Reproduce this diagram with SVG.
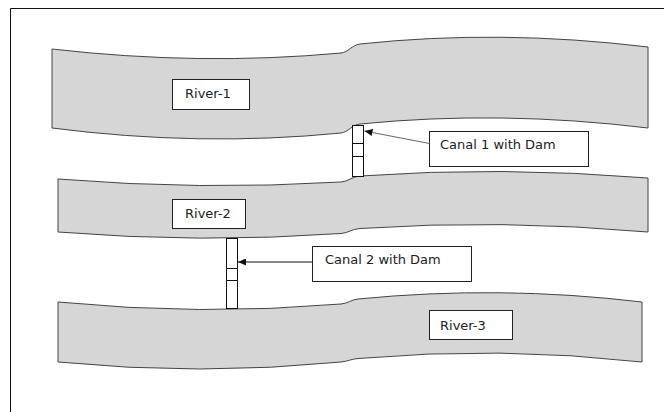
<svg xmlns="http://www.w3.org/2000/svg" width="664" height="412" viewBox="0 0 664 412">
<style>
.river{fill:#d6d6d6;stroke:#444;stroke-width:1}
.box{fill:#fff;stroke:#222;stroke-width:1}
.canal{fill:#fff;stroke:#111;stroke-width:1}
.t{font-family:"DejaVu Sans",sans-serif;font-size:13px;fill:#222}
.frame{fill:none;stroke:#111;stroke-width:1}
</style>
<defs>
<marker id="ah" markerUnits="userSpaceOnUse" markerWidth="9" markerHeight="7" refX="8" refY="3.5" orient="auto">
<path d="M0,0 L8,3.5 L0,7 Z" fill="#111"/>
</marker>
</defs>
<rect width="664" height="412" fill="#fff"/>
<path class="frame" d="M10.5,412 V8.5 H664"/>
<g id="river1">
<path class="river" d="M52,49 Q200,66 341,53 C348,52.4 352,44.9 360,44 Q500,29 648,47 L648,128 Q500,110 360,124 C352,124.8 348,132.3 341,133 Q200,147 52,128 Z"/>
<rect class="box" x="172.5" y="79.5" width="77" height="30"/>
<text class="t" x="185" y="98">River-1</text>
</g>
<g id="river2">
<path class="river" d="M58,179 Q200,190.5 341,182 C348,181.6 352,176.6 360,176 Q500,166 648,178 L648,232 Q500,219 360,228.5 C352,229 348,233 341,233.5 Q200,243.5 58,232 Z"/>
<rect class="box" x="172.5" y="199.5" width="73" height="29"/>
<text class="t" x="185" y="218">River-2</text>
</g>
<g id="river3">
<path class="river" d="M58,302 Q200,316 341,304 C348,303.4 351,299.7 358,299 Q500,285 642,302 L642,362 Q500,346 358,358.5 C351,359.1 348,361.3 341,362 Q200,376 58,362 Z"/>
<rect class="box" x="429.5" y="310.5" width="83" height="29"/>
<text class="t" x="440" y="329.5">River-3</text>
</g>
<g id="canal1">
<rect class="canal" x="352.5" y="125.5" width="11" height="51"/>
<path class="canal" d="M352.5,143.5 H363.5 M352.5,156.5 H363.5"/>
</g>
<g id="canal2">
<rect class="canal" x="226.5" y="238.5" width="11" height="70"/>
<path class="canal" d="M226.5,268.5 H237.5 M226.5,280.5 H237.5"/>
</g>
<g id="label-canal1">
<rect class="box" x="429.5" y="131.5" width="159" height="35"/>
<text class="t" x="440" y="148.5">Canal 1 with Dam</text>
</g>
<g id="label-canal2">
<rect class="box" x="312.5" y="246.5" width="159" height="35"/>
<text class="t" x="325" y="263.5">Canal 2 with Dam</text>
</g>
<g id="connectors">
<line x1="429.5" y1="143.5" x2="364.5" y2="131" stroke="#666" stroke-width="1" marker-end="url(#ah)"/>
<line x1="312.5" y1="262" x2="238" y2="262" stroke="#111" stroke-width="1" marker-end="url(#ah)"/>
</g>
</svg>
